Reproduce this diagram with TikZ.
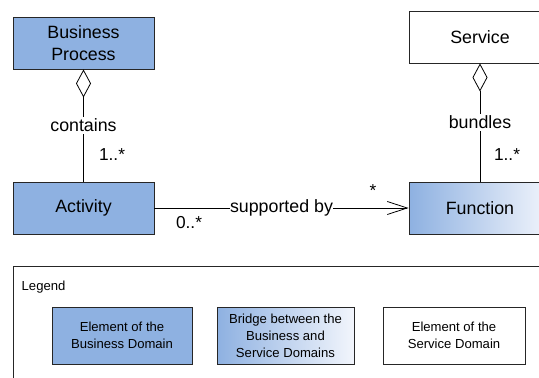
\documentclass[tikz,border=0pt]{standalone}
\usepackage{fontspec}
\setmainfont{Liberation Sans}
\usetikzlibrary{arrows.meta}
\definecolor{bizblue}{HTML}{8EB1E1}
\definecolor{fadeblue}{HTML}{F2F5FC}
\tikzset{
  box/.style={draw=black!85, line width=0.9pt, minimum height=52pt, inner sep=0pt, align=center,
    font=\fontsize{17.8}{21.5}\selectfont},
  bizbox/.style={box, fill=bizblue},
  svcbox/.style={box, fill=white},
  bridgebox/.style={box, left color=bizblue, right color=fadeblue},
  lbox/.style={draw=black!85, line width=0.9pt, minimum height=57pt, inner sep=0pt, align=center,
    font=\fontsize{13.1}{17}\selectfont},
  conn/.style={draw=black, line width=0.8pt},
  lbl/.style={fill=white, inner sep=1.5pt, font=\fontsize{17.8}{21}\selectfont},
  mult/.style={inner sep=0pt, font=\fontsize{17.3}{20}\selectfont},
}
\begin{document}
\begin{tikzpicture}[x=1pt,y=-1pt]
\useasboundingbox (0,0) rectangle (539,378);
\clip (0,0) rectangle (539,378);
\node[bizbox, minimum width=141pt] (bp) at (83.5,43) {Business\\Process};
\node[bizbox, minimum width=141pt] (act) at (83.5,208) {Activity};
\node[svcbox, minimum width=142pt] (svc) at (480,37) {Service};
\node[bridgebox, minimum width=142pt] (fun) at (480,208) {Function};
\draw[conn, {Diamond[open,length=28pt,width=15pt,line width=0.8pt]}-] (bp.south) -- node[lbl] (contains) {contains} (act.north);
\draw[conn, {Diamond[open,length=28pt,width=15pt,line width=0.8pt]}-] (svc.south) -- node[lbl] (bundles) {bundles} (fun.north);
\draw[conn, -{Straight Barb[length=20pt,width=13pt,line width=0.8pt]}] (act.east) -- node[lbl, inner xsep=0.5pt] (sup) {supported by} (fun.west);
\node[mult] (m1) at (112,155) {1..*};
\node[mult] (m2) at (507,155) {1..*};
\node[mult] (m3) at (189,223) {0..*};
\node[mult] (m4) at (373,191) {*};
\draw[draw=black!85, line width=0.9pt] (13,266) rectangle (600,420);
\node[anchor=base west, inner sep=0pt, font=\fontsize{13.1}{16}\selectfont] (leg) at (21.5,290) {Legend};
\node[lbox, fill=bizblue, minimum width=140pt] (l1) at (122,335.5) {Element of the\\Business Domain};
\node[lbox, left color=bizblue, right color=fadeblue, minimum width=137pt] (l2) at (285.5,335.5) {Bridge between the\\Business and\\Service Domains};
\node[lbox, fill=white, minimum width=142pt] (l3) at (454,335.5) {Element of the\\Service Domain};
\end{tikzpicture}
\end{document}
